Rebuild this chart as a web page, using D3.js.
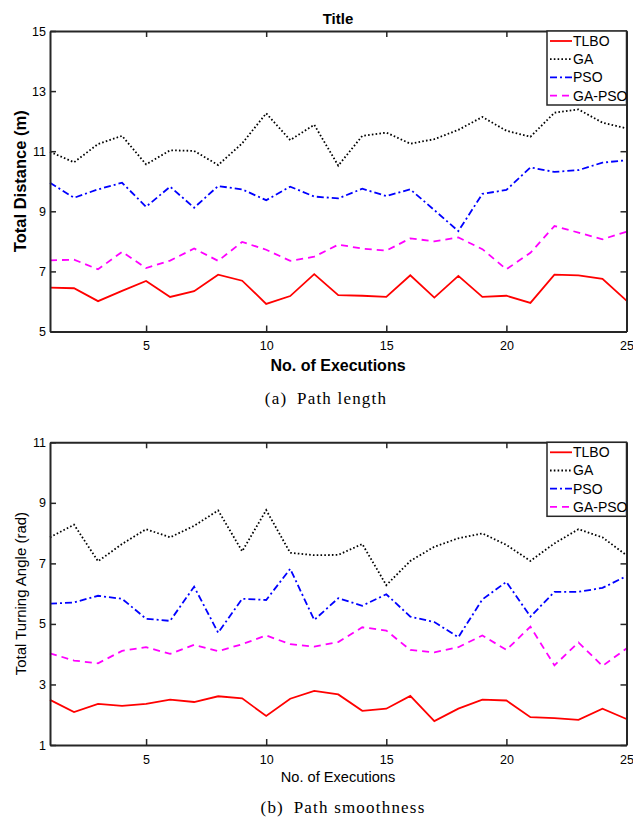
<!DOCTYPE html>
<html>
<head>
<meta charset="utf-8">
<script src="https://cdn.jsdelivr.net/npm/d3@7"></script>
<style>
  body { margin: 0; background: #fff; }
  svg text { font-family: "Liberation Sans", Arial, sans-serif; fill: #000; }
  .caption { font-family: "Liberation Serif", "DejaVu Serif", serif; }
</style>
</head>
<body>
<div id="chart"></div>
<script>
// executions 1..25
const executions = d3.range(1, 26);

// Path length (m)
const lenTLBO = [6.46, 6.44, 6.01, 6.35, 6.68, 6.15, 6.34, 6.89, 6.69, 5.92, 6.18, 6.91, 6.21,
  6.19, 6.15, 6.87, 6.13, 6.85, 6.15, 6.19, 5.95, 6.89, 6.87, 6.75, 6.03];
const lenGA = [10.98, 10.63, 11.24, 11.51, 10.56, 11.03, 11.01, 10.54, 11.26, 12.26, 11.37, 11.88, 10.52,
  11.51, 11.62, 11.25, 11.40, 11.71, 12.14, 11.68, 11.48, 12.28, 12.39, 11.95, 11.76];
const lenPSO = [9.95, 9.45, 9.73, 9.95, 9.15, 9.82, 9.12, 9.84, 9.73, 9.37, 9.82, 9.49, 9.43,
  9.75, 9.51, 9.73, 9.04, 8.34, 9.58, 9.71, 10.46, 10.31, 10.37, 10.62, 10.70];
const lenGAPSO = [7.37, 7.39, 7.07, 7.65, 7.11, 7.36, 7.76, 7.35, 7.98, 7.72, 7.35, 7.49, 7.89,
  7.76, 7.69, 8.10, 8.00, 8.13, 7.74, 7.07, 7.62, 8.51, 8.29, 8.07, 8.32];

// Turning angle (rad)
const angTLBO = [2.49, 2.09, 2.36, 2.29, 2.36, 2.50, 2.42, 2.61, 2.54, 1.96, 2.53, 2.79, 2.67,
  2.13, 2.20, 2.62, 1.79, 2.20, 2.50, 2.47, 1.92, 1.89, 1.83, 2.20, 1.86];
const angGA = [7.86, 8.28, 7.07, 7.64, 8.13, 7.86, 8.24, 8.75, 7.40, 8.76, 7.35, 7.27, 7.28,
  7.64, 6.28, 7.08, 7.55, 7.83, 7.99, 7.61, 7.08, 7.66, 8.13, 7.86, 7.27];
const angPSO = [5.67, 5.71, 5.93, 5.83, 5.17, 5.10, 6.23, 4.71, 5.83, 5.79, 6.82, 5.13, 5.85,
  5.60, 5.98, 5.24, 5.06, 4.56, 5.81, 6.39, 5.24, 6.06, 6.06, 6.19, 6.58];
const angGAPSO = [4.03, 3.79, 3.70, 4.11, 4.23, 4.01, 4.31, 4.10, 4.33, 4.62, 4.33, 4.25, 4.40,
  4.89, 4.78, 4.14, 4.06, 4.23, 4.62, 4.14, 4.91, 3.63, 4.39, 3.61, 4.19];

const seriesNames = ["TLBO", "GA", "PSO", "GA-PSO"];
const xTicks = [5, 10, 15, 20, 25];
const lenTicks = [5, 7, 9, 11, 13, 15];
const angTicks = [1, 3, 5, 7, 9, 11];

const styles = {
  "TLBO": { color: "#ff0000", dash: null },
  "GA": { color: "#000000", dash: "1.6,2.2" },
  "PSO": { color: "#0000ff", dash: "7,3,2,3" },
  "GA-PSO": { color: "#ff00ff", dash: "7,5" }
};

const W = 633, H = 820;
const svg = d3.select("#chart").append("svg")
  .attr("width", W).attr("height", H);

function drawPanel(cfg) {
  const left = 50, right = 626.5;
  const x = d3.scaleLinear().domain([1, 25]).range([left, right]);
  const y = d3.scaleLinear().domain(cfg.yDomain).range([cfg.bottom, cfg.top]);

  const g = svg.append("g");

  // lines
  const line = d3.line().x((d, i) => x(executions[i])).y(d => y(d));
  cfg.series.forEach((vals, k) => {
    const s = styles[seriesNames[k]];
    g.append("path")
      .datum(vals)
      .attr("d", line)
      .attr("fill", "none")
      .attr("stroke", s.color)
      .attr("stroke-width", 1.8)
      .attr("stroke-dasharray", s.dash);
  });

  // axes (ticks inward, mirrored)
  const axColor = "#262626";
  const tickLen = 6;
  const bottomAxis = g.append("g").attr("transform", `translate(0,${cfg.bottom})`)
    .call(d3.axisBottom(x).tickValues(xTicks).tickSizeInner(-tickLen).tickSizeOuter(0).tickPadding(10));
  const topAxis = g.append("g").attr("transform", `translate(0,${cfg.top})`)
    .call(d3.axisTop(x).tickValues(xTicks).tickSizeInner(-tickLen).tickSizeOuter(0).tickFormat(""));
  const leftAxis = g.append("g").attr("transform", `translate(${left},0)`)
    .call(d3.axisLeft(y).tickValues(cfg.yTicks).tickSizeInner(-tickLen).tickSizeOuter(0).tickPadding(4));
  const rightAxis = g.append("g").attr("transform", `translate(${right},0)`)
    .call(d3.axisRight(y).tickValues(cfg.yTicks).tickSizeInner(-tickLen).tickSizeOuter(0).tickFormat(""));

  [bottomAxis, topAxis, leftAxis, rightAxis].forEach(a => {
    a.select(".domain").attr("stroke", axColor).attr("stroke-width", 2);
    a.selectAll(".tick line").attr("stroke", axColor).attr("stroke-width", 1.5);
    a.selectAll(".tick text").attr("font-size", 12.5).attr("font-family", "Liberation Sans, Arial, sans-serif").attr("fill", "#000");
  });

  // title
  if (cfg.title) {
    g.append("text").attr("x", 338).attr("y", 24)
      .attr("text-anchor", "middle").attr("font-weight", "bold").attr("font-size", 15)
      .text(cfg.title);
  }

  // axis labels
  g.append("text")
    .attr("x", 338).attr("y", cfg.bottom + cfg.xLabelOffset)
    .attr("text-anchor", "middle")
    .attr("font-weight", cfg.boldLabels ? "bold" : "normal")
    .attr("font-size", cfg.boldLabels ? 16 : 14.6)
    .text("No. of Executions");

  g.append("text")
    .attr("transform", `translate(26,${(cfg.top + cfg.bottom) / 2}) rotate(-90)`)
    .attr("text-anchor", "middle")
    .attr("font-weight", cfg.boldLabels ? "bold" : "normal")
    .attr("font-size", cfg.boldLabels ? 16.5 : 15)
    .text(cfg.yLabel);

  // legend
  const lg = g.append("g").attr("transform", `translate(547,${cfg.top})`);
  lg.append("rect").attr("x", 0).attr("y", 0).attr("width", right - 547).attr("height", 74)
    .attr("fill", "#fff").attr("stroke", "#262626").attr("stroke-width", 1.5);
  seriesNames.forEach((name, i) => {
    const yy = 10 + i * 18.2;
    lg.append("line").attr("x1", 3).attr("x2", 25).attr("y1", yy).attr("y2", yy)
      .attr("stroke", styles[name].color).attr("stroke-width", 1.8)
      .attr("stroke-dasharray", styles[name].dash);
    lg.append("text").attr("x", 26).attr("y", yy + 5).attr("font-size", 14).text(name);
  });

  // caption
  svg.append("text").attr("class", "caption")
    .attr("x", cfg.captionX).attr("y", cfg.captionY)
    .attr("text-anchor", "middle").attr("font-size", 17)
    .attr("letter-spacing", 1.2)
    .text(cfg.caption);
}

drawPanel({
  top: 31, bottom: 331.5, yDomain: [5, 15], yTicks: lenTicks,
  series: [lenTLBO, lenGA, lenPSO, lenGAPSO],
  title: "Title", yLabel: "Total Distance (m)", boldLabels: true, xLabelOffset: 39,
  caption: "(a)\u2002Path length", captionX: 326, captionY: 404
});

drawPanel({
  top: 442.3, bottom: 745, yDomain: [1, 11], yTicks: angTicks,
  series: [angTLBO, angGA, angPSO, angGAPSO],
  title: null, yLabel: "Total Turning Angle (rad)", boldLabels: false, xLabelOffset: 37,
  caption: "(b)\u2002Path smoothness", captionX: 343, captionY: 813
});
</script>
</body>
</html>
